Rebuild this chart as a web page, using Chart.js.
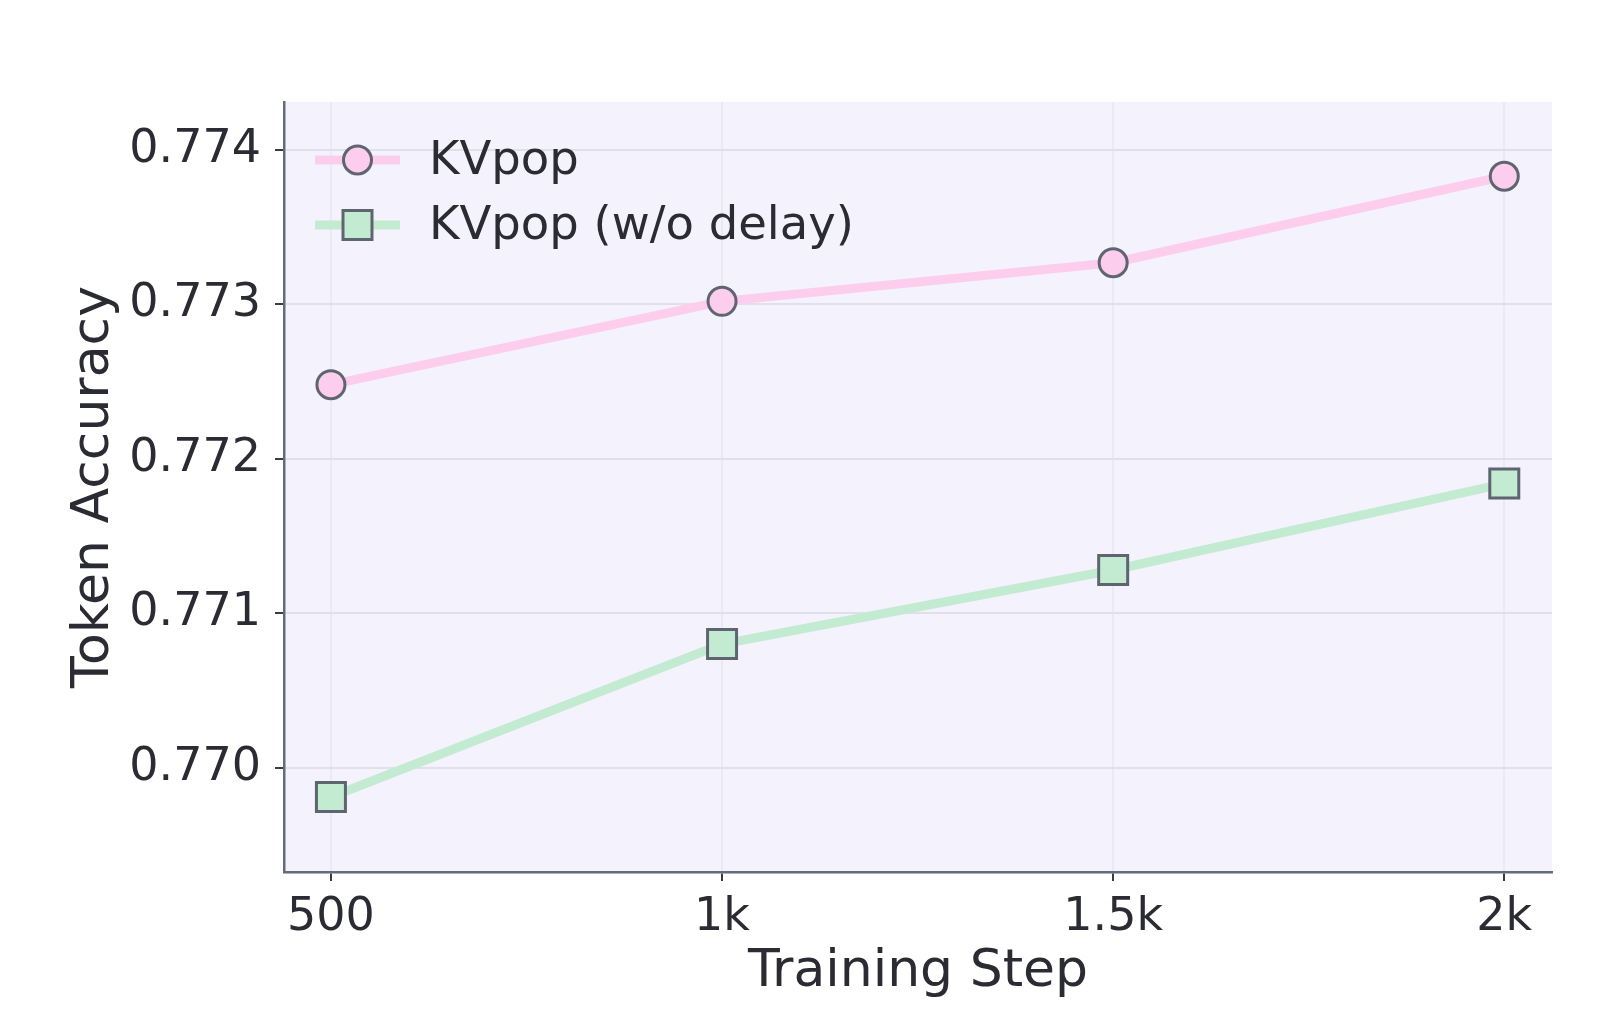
<!DOCTYPE html>
<html>
<head>
<meta charset="utf-8">
<script src="https://cdn.jsdelivr.net/npm/chart.js@4.4.1/dist/chart.umd.min.js"></script>
<style>
  body { margin: 0; background: #fff; }
  canvas { display: block; }
</style>
</head>
<body>
<canvas id="accChart" width="1610" height="1036"></canvas>
<script>
// data
const steps = [500, 1000, 1500, 2000];
const stepLabels = ['500', '1k', '1.5k', '2k'];
const kvpop = [0.77248, 0.77302, 0.77327, 0.77383];
const kvpopNoDelay = [0.76981, 0.77080, 0.77128, 0.77184];
const accTicks = [0.770, 0.771, 0.772, 0.773, 0.774];

const textColor = '#2b2b33';
const spineColor = '#666b74';
const markerEdge = '#5f6570';

// plot area background
const bgPlugin = {
  id: 'plotBg',
  beforeDraw(chart) {
    const { ctx, chartArea: a } = chart;
    ctx.save();
    ctx.fillStyle = '#f3f2fd';
    ctx.fillRect(a.left, a.top, a.right - a.left, a.bottom - a.top);
    ctx.restore();
  }
};

// matplotlib-ish legend: line sample + marker + label, inside top-left
const legendPlugin = {
  id: 'mplLegend',
  afterDatasetsDraw(chart) {
    const { ctx, chartArea: a } = chart;
    ctx.save();
    chart.data.datasets.forEach((ds, i) => {
      const y = a.top + 58 + i * 65;
      const x0 = a.left + 31, x1 = a.left + 116, xm = (x0 + x1) / 2;
      ctx.strokeStyle = ds.borderColor;
      ctx.lineWidth = ds.borderWidth;
      ctx.beginPath();
      ctx.moveTo(x0, y);
      ctx.lineTo(x1, y);
      ctx.stroke();
      ctx.fillStyle = ds.pointBackgroundColor;
      ctx.strokeStyle = ds.pointBorderColor;
      ctx.lineWidth = ds.pointBorderWidth;
      ctx.beginPath();
      if (ds.pointStyle === 'circle') {
        ctx.arc(xm, y, ds.pointRadius, 0, Math.PI * 2);
      } else {
        const s = ds.pointRadius * Math.SQRT1_2;
        ctx.rect(xm - s, y - s, 2 * s, 2 * s);
      }
      ctx.fill();
      ctx.stroke();
      ctx.fillStyle = textColor;
      ctx.font = '46.5px "DejaVu Sans"';
      ctx.textBaseline = 'middle';
      ctx.textAlign = 'left';
      ctx.fillText(ds.label, a.left + 145, y + 2);
    });
    ctx.restore();
  }
};

new Chart(document.getElementById('accChart'), {
  type: 'line',
  data: {
    datasets: [
      {
        label: 'KVpop',
        data: steps.map((s, i) => ({ x: s, y: kvpop[i] })),
        borderColor: '#fdcdee',
        borderWidth: 9,
        pointStyle: 'circle',
        pointRadius: 14,
        pointBackgroundColor: '#fdcdee',
        pointBorderColor: markerEdge,
        pointBorderWidth: 3
      },
      {
        label: 'KVpop (w/o delay)',
        data: steps.map((s, i) => ({ x: s, y: kvpopNoDelay[i] })),
        borderColor: '#c3ebd2',
        borderWidth: 9,
        pointStyle: 'rect',
        pointRadius: 20.5,
        pointBackgroundColor: '#c3ebd2',
        pointBorderColor: markerEdge,
        pointBorderWidth: 3
      }
    ]
  },
  options: {
    responsive: false,
    animation: false,
    layout: { padding: { top: 102, right: 58, left: 0, bottom: 0 } },
    plugins: { legend: { display: false }, tooltip: { enabled: false } },
    scales: {
      x: {
        type: 'linear',
        min: 440,
        max: 2061,
        afterFit(scale) { scale.height = 164; },
        afterBuildTicks(scale) { scale.ticks = steps.map(v => ({ value: v })); },
        ticks: {
          color: textColor,
          font: { family: 'DejaVu Sans', size: 46 },
          padding: 9,
          maxRotation: 0,
          callback: (v) => stepLabels[steps.indexOf(v)]
        },
        grid: {
          color: '#ebeaf3',
          lineWidth: 2,
          tickColor: '#3a3a42',
          tickLength: 9,
          tickWidth: 2
        },
        border: { display: true, color: spineColor, width: 2.5 },
        title: {
          display: true,
          text: 'Training Step',
          color: textColor,
          font: { family: 'DejaVu Sans', size: 52 },
          padding: { top: 0, bottom: 32 }
        }
      },
      y: {
        min: 0.769324,
        max: 0.774311,
        afterFit(scale) { scale.width = 284; },
        afterBuildTicks(scale) { scale.ticks = accTicks.map(v => ({ value: v })); },
        ticks: {
          color: textColor,
          font: { family: 'DejaVu Sans', size: 46 },
          padding: 14,
          callback: (v) => v.toFixed(3)
        },
        grid: {
          color: '#e1e0ea',
          lineWidth: 2,
          tickColor: '#3a3a42',
          tickLength: 9,
          tickWidth: 2
        },
        border: { display: true, color: spineColor, width: 2.5 },
        title: {
          display: true,
          text: 'Token Accuracy',
          color: textColor,
          font: { family: 'DejaVu Sans', size: 52 },
          padding: { top: 63, bottom: 0 }
        }
      }
    }
  },
  plugins: [bgPlugin, legendPlugin]
});
</script>
</body>
</html>
